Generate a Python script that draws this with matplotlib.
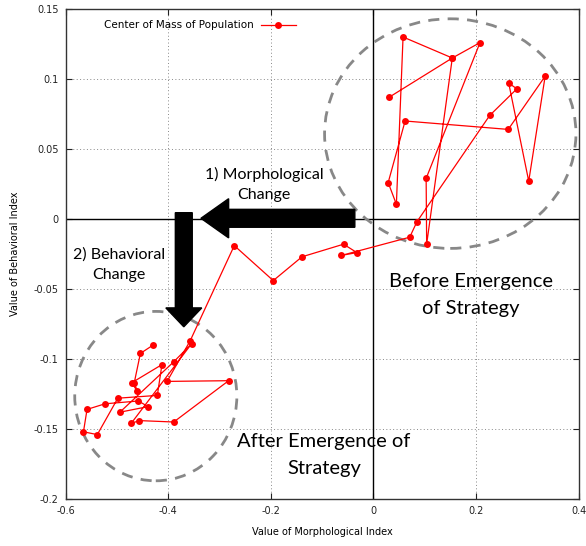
import matplotlib
matplotlib.use("Agg")
import matplotlib.pyplot as plt
from matplotlib.patches import Ellipse, FancyArrow
from matplotlib.ticker import FixedLocator, FixedFormatter

# ---------------- data ----------------
series_label = "Center of Mass of Population"
morph = [0.031, 0.154, 0.208, 0.103, 0.104, 0.154, 0.058, 0.045, 0.029, 0.062,
         0.263, 0.335, 0.303, 0.264, 0.280, 0.227, 0.085, 0.071,
         -0.062, -0.032, -0.058, -0.139, -0.195, -0.271,
         -0.357, -0.402, -0.282, -0.389, -0.456, -0.472, -0.354, -0.389,
         -0.494, -0.439, -0.458, -0.523, -0.558, -0.565, -0.538, -0.498,
         -0.421, -0.412, -0.471, -0.460, -0.466, -0.454, -0.429]
behav = [0.087, 0.115, 0.126, 0.029, -0.018, 0.115, 0.130, 0.0105, 0.026, 0.070,
         0.064, 0.102, 0.027, 0.097, 0.093, 0.074, -0.002, -0.013,
         -0.026, -0.024, -0.018, -0.027, -0.044, -0.019,
         -0.087, -0.116, -0.1155, -0.145, -0.144, -0.146, -0.089, -0.102,
         -0.138, -0.134, -0.130, -0.132, -0.136, -0.152, -0.154, -0.128,
         -0.126, -0.104, -0.117, -0.123, -0.117, -0.096, -0.090]

x_ticks = [-0.6, -0.4, -0.2, 0, 0.2, 0.4]
x_tick_labels = ["-0.6", "-0.4", "-0.2", "0", "0.2", "0.4"]
y_ticks = [-0.2, -0.15, -0.1, -0.05, 0, 0.05, 0.1, 0.15]
y_tick_labels = ["-0.2", "-0.15", "-0.1", "-0.05", "0", "0.05", "0.1", "0.15"]

# ---------------- figure ----------------
fig = plt.figure(figsize=(5.86, 5.46), dpi=100)
ax = fig.add_axes([65.5 / 586, 47 / 546, 513 / 586, 490 / 546])
ax.set_xlim(-0.6, 0.4)
ax.set_ylim(-0.2, 0.15)

ax.xaxis.set_major_locator(FixedLocator(x_ticks))
ax.xaxis.set_major_formatter(FixedFormatter(x_tick_labels))
ax.yaxis.set_major_locator(FixedLocator(y_ticks))
ax.yaxis.set_major_formatter(FixedFormatter(y_tick_labels))
ax.tick_params(direction="in", top=True, right=True, length=4, width=0.8,
               labelsize=7, colors="#222222", pad=5)

ax.grid(True, linestyle=(0, (1, 2.5)), color="#888888", linewidth=0.7)
ax.set_axisbelow(True)
for s in ax.spines.values():
    s.set_linewidth(1.0)
    s.set_color("#333333")

ax.axhline(0, color="black", linewidth=1.0, zorder=1)
ax.axvline(0, color="black", linewidth=1.0, zorder=1)

ax.set_xlabel("Value of Morphological Index", fontsize=7, labelpad=8)
ax.set_ylabel("Value of Behavioral Index", fontsize=7, labelpad=10)

# dashed circles
for (cx, cy, w, h) in [(0.150, 0.061, 0.490, 0.164), (-0.424, -0.1265, 0.316, 0.121)]:
    ax.add_patch(Ellipse((cx, cy), w, h, fill=False, edgecolor="#888888",
                         linewidth=2, linestyle=(0, (4, 3)), zorder=2))

# data line
ax.plot(morph, behav, color="#ff0000", linewidth=0.9, marker="o", markersize=5,
        markeredgewidth=0, label=series_label, zorder=4)

# arrows
ax.add_patch(FancyArrow(-0.036, 0.0005, -0.246, 0, width=0.0128, head_width=0.028,
                        head_length=0.054, length_includes_head=False,
                        color="black", zorder=5))
ax.add_patch(FancyArrow(-0.3694, 0.0045, 0, -0.0680, width=0.033, head_width=0.070,
                        head_length=0.0135, length_includes_head=False,
                        color="black", zorder=5))

# annotations
ann_font = "Lato"
ax.text(-0.213, 0.0245, "1) Morphological\nChange", ha="center", va="center",
        fontsize=11.5, family=ann_font, linespacing=1.55, zorder=6)
ax.text(-0.496, -0.0325, "2) Behavioral\nChange", ha="center", va="center",
        fontsize=11.5, family=ann_font, linespacing=1.55, zorder=6)
ax.text(0.19, -0.0545, "Before Emergence\nof Strategy", ha="center", va="center",
        fontsize=14.5, family=ann_font, linespacing=1.7, zorder=6)
ax.text(-0.096, -0.1685, "After Emergence of\nStrategy", ha="center", va="center",
        fontsize=14.5, family=ann_font, linespacing=1.7, zorder=6)

leg = ax.legend(loc="upper left", bbox_to_anchor=(0.06, 0.992), frameon=False,
                markerfirst=False, fontsize=7.5, handlelength=3.4, borderpad=0.2,
                handletextpad=0.7)

fig.savefig("out.png", dpi=100)
